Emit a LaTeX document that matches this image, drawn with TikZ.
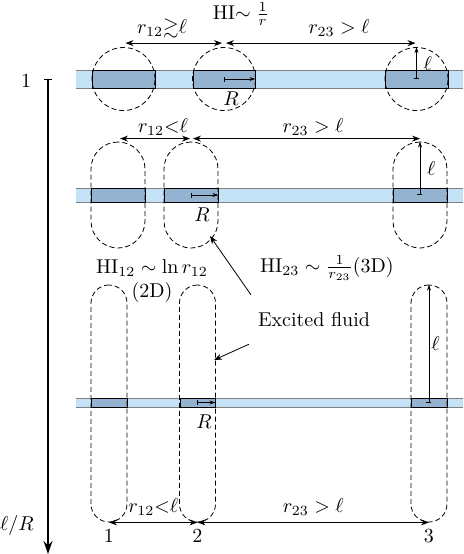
\documentclass[tikz,border=0pt]{standalone}
\usepackage{amssymb,amsmath}
\usetikzlibrary{arrows.meta,calc,positioning}
\definecolor{tubeblue}{RGB}{197,227,246}
\definecolor{coreblue}{RGB}{147,179,208}

\begin{document}
\begin{tikzpicture}[x=0.5pt,y=-0.5pt,>={Stealth[length=4pt,width=3pt]},
	core/.style={draw,fill=coreblue,inner sep=0pt,minimum height=#1},
	halo/.style={draw,dash pattern=on 2.5pt off 1.5pt,inner sep=0pt},
	ray/.style={{Bar[width=2.5pt]}-{Stealth[length=3pt,width=2pt]},line width=0.35pt}]
	\useasboundingbox (0,0) rectangle (463,554);
	% tubes, thinner as l/R grows
	\foreach \ya/\yb in {70/88,188/202,398/407}{
		\fill[tubeblue] (76,\ya) rectangle (463,\yb);
		\draw[gray] (76,\ya) -- (463,\ya) (76,\yb) -- (463,\yb);
	}
	% particles
	\node[core=9pt,minimum width=31.5pt] (b11) at (123.5,79) {};
	\node[core=9pt,minimum width=31pt] (b12) at (224,79) {};
	\node[core=9pt,minimum width=31.5pt] (b13) at (416.5,79) {};
	\node[core=7pt,minimum width=27pt] (b21) at (118,195) {};
	\node[core=7pt,minimum width=27pt] (b22) at (191,195) {};
	\node[core=7pt,minimum width=27pt] (b23) at (420,195) {};
	\node[core=4.5pt,minimum width=18pt] (b31) at (109,402.5) {};
	\node[core=4.5pt,minimum width=17.5pt] (b32) at (197.5,402.5) {};
	\node[core=4.5pt,minimum width=18pt] (b33) at (429,402.5) {};
	% excited fluid
	\node[halo,circle,minimum size=31.5pt] (h11) at (b11) {};
	\node[halo,circle,minimum size=31.5pt] (h12) at (b12) {};
	\node[halo,circle,minimum size=31.5pt] (h13) at (b13) {};
	\foreach \i in {1,2,3}{
		\node[halo,minimum width=27pt,minimum height=53pt,rounded corners=13.5pt] (h2\i) at (b2\i) {};
		\node[halo,minimum width=18pt,minimum height=118.5pt,rounded corners=9pt] (h3\i) at ($(b3\i)+(0,1)$) {};
	}
	% distances
	\draw[<->] ([shift={(2,-4)}]h11.north) -- ([shift={(-2,-4)}]h12.north);
	\draw[<->] ([shift={(2,-4)}]h12.north) -- ([shift={(-1,-4)}]h13.north);
	\node (d112) at (162,28) {$r_{12}{\gtrsim}\ell$};
	\node (d123) at (339,28) {$r_{23}>\ell$};
	\draw[<->] ([shift={(2,-3)}]h21.north) -- ([shift={(-1,-3)}]h22.north);
	\draw[<->] ([shift={(2,-3)}]h22.north) -- ([shift={(0,-3)}]h23.north);
	\node (d212) at (163,127) {$r_{12}{<}\ell$};
	\node (d223) at (313,127) {$r_{23}>\ell$};
	\draw[<->] (h31.south) -- node[above] {$r_{12}{<}\ell$} (h32.south);
	\draw[<->] (h32.south) -- node[above] {$r_{23}>\ell$} (h33.south);
	\node[below] (n1) at (h31.south) {1};
	\node[below] (n2) at (h32.south) {2};
	\node[below] (n3) at (h33.south) {3};
	% sizes l and R
	\draw[ray] (b13.center) -- node[right] {$\ell$} (h13.north);
	\draw[ray] (b23.center) -- node[right] {$\ell$} (h23.north);
	\draw[ray] (b33.center) -- node[right,inner sep=1pt] {$\ell$} (h33.north);
	\draw[ray] (b12.center) -- (b12.east);
	\draw[ray] (b22.center) -- (b22.east);
	\draw[ray] (b32.center) -- (b32.east);
	\node (R1) at (231,99) {$R$};
	\node (R2) at (202,215) {$R$};
	\node (R3) at (204,422) {$R$};
	% interactions
	\node[inner sep=1pt] (hi) at (241,14) {HI$\sim\frac{1}{r}$};
	\node[align=center] (hi12) at (152,281) {$\mathrm{HI}_{12}\sim\ln r_{12}$\\(2D)};
	\node (hi23) at (327,268) {$\mathrm{HI}_{23}\sim\frac{1}{r_{23}}$(3D)};
	\node (ef) at (314,320) {Excited fluid};
	\coordinate (tip1) at (210,236);
	\coordinate (tip2) at (214,360);
	\draw[->] ([shift={(0,-11)}]ef.north west) -- (tip1);
	\draw[->] ([shift={(-2,10)}]ef.south west) -- (tip2);
	% l/R axis
	\coordinate (ax0) at (48,79);
	\coordinate (ax1) at (48,554);
	\draw[line width=0.7pt,{Bar[width=4pt]}-{Stealth[length=6.5pt,width=4.5pt]}] (ax0) -- (ax1);
	\node (one) at (26,81) {1};
	\node (lR) at (17,525) {$\ell/R$};
\end{tikzpicture}
\end{document}
